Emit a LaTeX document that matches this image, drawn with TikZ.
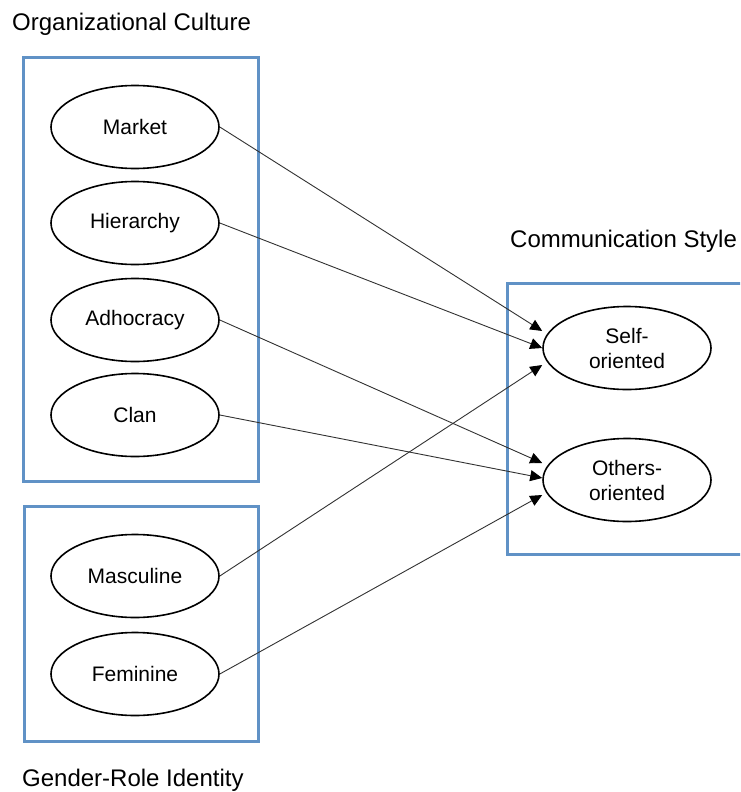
\documentclass[tikz,border=0pt]{standalone}
\usepackage{fontspec}
\setmainfont{Liberation Sans}
\usetikzlibrary{shapes.geometric,arrows.meta}
\definecolor{frameblue}{RGB}{96,146,198}
\definecolor{linkgray}{RGB}{50,50,50}
\tikzset{
  construct/.style={draw=black, line width=1.6pt, ellipse, minimum width=168pt,
    minimum height=83pt, inner sep=0pt, align=center,
    font=\fontsize{21}{25}\selectfont},
  groupframe/.style={draw=frameblue, line width=3pt},
  grouptitle/.style={anchor=base west, inner sep=0pt, font=\fontsize{24}{28}\selectfont},
  link/.style={draw=linkgray, line width=0.9pt,
    -{Triangle[length=12pt,width=11pt,fill=black,color=black]}}
}
\begin{document}
\begin{tikzpicture}[x=1pt, y=-1pt]
\useasboundingbox (0,0) rectangle (740,792);
\clip (0,0) rectangle (740,792);
\fill[white] (0,0) rectangle (740,792);

% group frames
\draw[groupframe] (23,58) rectangle (258,481);
\draw[groupframe] (24,506) rectangle (258,741);
\draw[groupframe] (507,283) rectangle (760,554);

% group titles
\node[grouptitle] (tculture) at (12,31) {Organizational Culture};
\node[grouptitle] (tcomm) at (510,247) {Communication Style};
\node[grouptitle] (tgender) at (22,786) {Gender-Role Identity};

% culture types
\node[construct] (market) at (135,127) {Market};
\node[construct] (hierarchy) at (135,223) {Hierarchy};
\node[construct] (adhocracy) at (135,320) {Adhocracy};
\node[construct] (clan) at (135,415) {Clan};

% gender roles
\node[construct] (masculine) at (135,576) {Masculine};
\node[construct] (feminine) at (135,674) {Feminine};

% communication styles
\node[construct] (self) at (627,348) {Self-\\oriented};
\node[construct] (others) at (627,480) {Others-\\oriented};

% paths
\draw[link] (market.east) -- ([yshift=17pt]self.west);
\draw[link] (hierarchy.east) -- (self.west);
\draw[link] (masculine.east) -- ([yshift=-17pt]self.west);
\draw[link] (adhocracy.east) -- ([yshift=17pt]others.west);
\draw[link] (clan.east) -- ([yshift=2pt]others.west);
\draw[link] (feminine.east) -- ([yshift=-15pt]others.west);
\end{tikzpicture}
\end{document}
